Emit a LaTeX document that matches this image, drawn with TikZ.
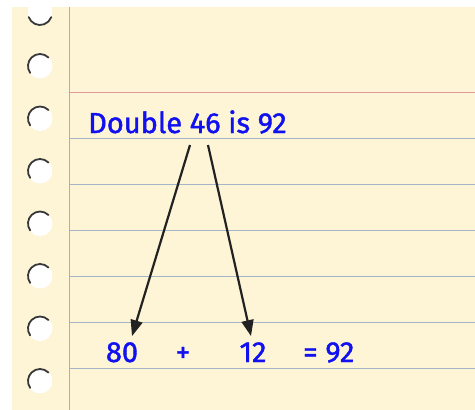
\documentclass[tikz,border=0pt]{standalone}
\usepackage{fontspec}
\setmainfont{Fira Sans}
\newfontfamily\handfont[FakeBold=1.4]{Fira Sans}
\usepackage{xcolor}
\definecolor{paper}{HTML}{FDF5D6}
\definecolor{margin}{HTML}{E29A96}
\definecolor{rule}{HTML}{A3B5C6}
\definecolor{ink}{HTML}{1010F0}
\definecolor{char}{HTML}{222222}
\usepackage{tikz}
\usetikzlibrary{arrows.meta,positioning,calc}

\begin{document}
\begin{tikzpicture}[
  x=1pt, y=-1pt,
  hole/.style={fill=white},
  holeshade/.style={line width=1.8pt, color=char!90, line cap=round},
  ruled/.style={line width=0.9pt, color=rule},
  arrowline/.style={-{Triangle[length=16pt,width=12pt]}, line width=2.2pt, color=char},
  hand/.style={font=\handfont\fontsize{29}{32}\selectfont, text=ink, inner sep=1pt},
  sum/.style={font=\handfont\fontsize{29}{32}\selectfont, text=ink, inner sep=1pt}
]
\useasboundingbox (0,0) rectangle (475,410);

% Paper
\fill[paper] (12,7) rectangle (475,410);

% Ruled lines
\foreach \y in {138,184,230,276,322,368}
  \draw[ruled] (70,\y) -- (475,\y);
\draw[line width=0.8pt, color=margin] (70,92) -- (475,92);
\draw[line width=0.8pt, color=margin] (69,7) -- (69,410);

% Punched holes
\begin{scope}
\clip (0,7) rectangle (475,410);
\fill[hole] (40,13) circle (12.5);
\begin{scope}[shift={(40,13)}, y=1pt]
\draw[holeshade] (200:12) arc (200:340:12);
\end{scope}
\end{scope}
\foreach \y in {66,118.5,171,223.5,276,328.5,381} {
  \fill[hole] (40,\y) circle (12.5);
  \begin{scope}[shift={(40,\y)}, y=1pt]
  \draw[holeshade] (45:12) arc (45:215:12);
  \end{scope}
}

% Text
\node[hand, anchor=base west] (title) at (87,133) {Double 46 is 92};
\node[sum, anchor=base] (tens) at (122,362) {80};
\node[sum, anchor=base] (plus) at (183,362) {+};
\node[sum, anchor=base] (ones) at (253,362) {12};
\node[sum, anchor=base west] (total) at (302,362) {= 92};

% Split arrows
\coordinate (from1) at (190,145);
\coordinate (from2) at (208,145);
\coordinate (to1) at ($(tens.north)+(10,-5)$);
\coordinate (to2) at ($(ones.north)+(-2,-5)$);
\draw[arrowline] (from1) -- (to1);
\draw[arrowline] (from2) -- (to2);

\end{tikzpicture}
\end{document}
